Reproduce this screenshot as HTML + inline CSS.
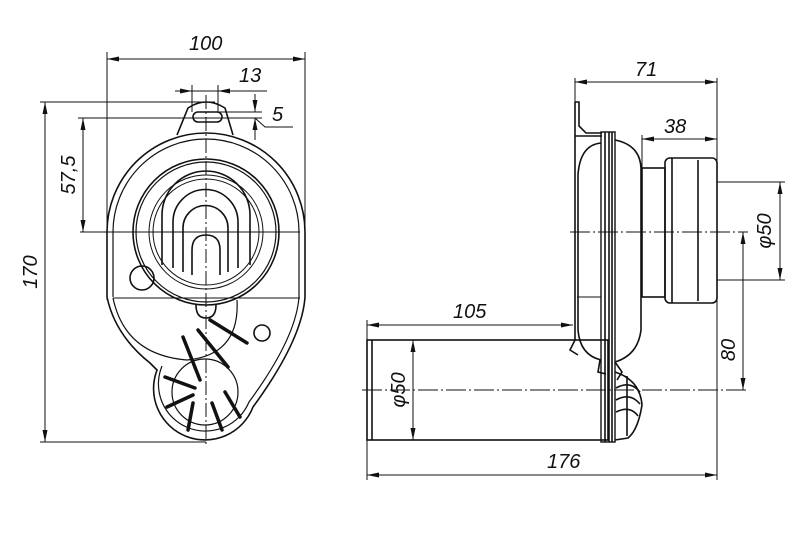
<!DOCTYPE html>
<html><head><meta charset="utf-8"><style>
html,body{margin:0;padding:0;background:#fff;}
svg{display:block;}
text{font-family:"Liberation Sans",sans-serif;font-style:italic;font-size:20px;fill:#111;}
</style></head><body>
<svg width="798" height="544" viewBox="0 0 798 544" xmlns="http://www.w3.org/2000/svg">
<defs>
<marker id="a" viewBox="0 0 12 6" refX="12" refY="3" markerWidth="12" markerHeight="6" orient="auto-start-reverse" markerUnits="userSpaceOnUse"><path d="M0,0.5 L12,3 L0,5.5 z" fill="#111"/></marker>
</defs>
<g stroke="#111" fill="none" stroke-width="1">
<line x1="107" y1="52" x2="107" y2="300"/>
<line x1="305" y1="52" x2="305" y2="230"/>
<line x1="107" y1="59" x2="305" y2="59" marker-start="url(#a)" marker-end="url(#a)"/>
<line x1="192" y1="85" x2="192" y2="112"/>
<line x1="218" y1="85" x2="218" y2="112"/>
<line x1="175" y1="91" x2="192" y2="91" marker-end="url(#a)"/>
<line x1="192" y1="91" x2="218" y2="91"/>
<line x1="267" y1="91" x2="218" y2="91" marker-end="url(#a)"/>
<line x1="40" y1="102" x2="215" y2="102"/>
<line x1="215" y1="112" x2="262" y2="112"/>
<line x1="78" y1="118" x2="262" y2="118"/>
<line x1="255" y1="94" x2="255" y2="112" marker-end="url(#a)"/>
<line x1="255" y1="140" x2="255" y2="118" marker-end="url(#a)"/>
<polyline points="255,118 265,127 293,127"/>
<line x1="45" y1="102" x2="45" y2="442" marker-start="url(#a)" marker-end="url(#a)"/>
<line x1="40" y1="442" x2="206" y2="442"/>
<line x1="83" y1="118" x2="83" y2="232" marker-start="url(#a)" marker-end="url(#a)"/>
<line x1="80" y1="232" x2="300" y2="232"/>
<line x1="206" y1="95" x2="206" y2="445" stroke-dasharray="14,3,2,3"/>
<g stroke-width="1.6">
<path d="M177,135 L188,108 Q206,96 225,108 L233,135"/>
<rect x="193" y="112" width="29" height="10" rx="5"/>
<path d="M107,297 L107,232 A99,99 0 0 1 305,232 L305,297 Q302,340 253,407 A50,50 0 1 1 157,370 L150,363 Q115,335 107,297 Z"/>
<path d="M113,297 L113,232 A93,93 0 0 1 299,232 L299,297 Q296,338 249,402 A45,45 0 1 1 162,366" stroke-width="1.2"/>
<circle cx="206" cy="232" r="73"/>
<circle cx="206" cy="232" r="70" stroke-width="1.2"/>
<circle cx="206" cy="232" r="57" stroke-width="1"/>
<circle cx="206" cy="232" r="53" stroke-width="1"/>
<path d="M162,265 L162,215 A44,44 0 0 1 250,215 L250,265"/>
<path d="M173,268 L173,222 A32,32 0 0 1 238,222 L238,268"/>
<path d="M183,272 L183,228 A22,22 0 0 1 228,228 L228,272"/>
<path d="M192,275 L192,250 Q192,235 206,235 Q220,235 220,250 L220,275"/>
<circle cx="142" cy="278" r="12"/>
<circle cx="262" cy="333" r="8"/>
<path d="M196,305 Q196,318 206,318 Q216,318 216,305"/>
<path d="M113,298 Q125,355 187,360 Q240,355 237,300" stroke-width="1.2"/>
<circle cx="205" cy="392" r="33" stroke-width="1.2"/>
</g>
<line x1="113" y1="298" x2="300" y2="298"/>
<g stroke-width="3.5" stroke-linecap="round">
<line x1="210" y1="320" x2="247" y2="343"/>
<line x1="198" y1="330" x2="228" y2="367"/>
<line x1="183" y1="337" x2="200" y2="380"/>
<line x1="165" y1="377" x2="195" y2="388"/>
<line x1="167" y1="407" x2="193" y2="395"/>
<line x1="193" y1="403" x2="188" y2="430"/>
<line x1="212" y1="403" x2="222" y2="430"/>
<line x1="225" y1="392" x2="240" y2="417"/>
</g>
<line x1="575" y1="78" x2="575" y2="102"/>
<line x1="717" y1="78" x2="717" y2="480"/>
<line x1="575" y1="82" x2="717" y2="82" marker-start="url(#a)" marker-end="url(#a)"/>
<line x1="642" y1="135" x2="642" y2="168"/>
<line x1="642" y1="139" x2="717" y2="139" marker-start="url(#a)" marker-end="url(#a)"/>
<line x1="570" y1="232" x2="748" y2="232" stroke-dasharray="20,3,2,3"/>
<line x1="717" y1="182" x2="785" y2="182"/>
<line x1="717" y1="280" x2="785" y2="280"/>
<line x1="780" y1="182" x2="780" y2="280" marker-start="url(#a)" marker-end="url(#a)"/>
<line x1="743" y1="232" x2="743" y2="390" marker-start="url(#a)" marker-end="url(#a)"/>
<line x1="362" y1="390" x2="747" y2="390" stroke-dasharray="20,3,2,3"/>
<line x1="367" y1="320" x2="367" y2="480"/>
<line x1="367" y1="325" x2="573" y2="325" marker-start="url(#a)" marker-end="url(#a)"/>
<line x1="367" y1="475" x2="717" y2="475" marker-start="url(#a)" marker-end="url(#a)"/>
<line x1="413" y1="340" x2="413" y2="440" marker-start="url(#a)" marker-end="url(#a)"/>
<g stroke-width="1.6">
<path d="M575,102 L575,340"/>
<path d="M575,102 L579,102 L579,126 L586,133 L602,133"/>
<line x1="575" y1="136" x2="602" y2="136"/>
<rect x="601" y="132" width="14" height="310" stroke-width="1.4"/>
<line x1="605" y1="132" x2="605" y2="442"/>
<line x1="609" y1="132" x2="609" y2="442"/>
<line x1="612" y1="132" x2="612" y2="442"/>
<path d="M601,143 Q580,145 578,175 L578,330 Q580,355 601,360"/>
<path d="M615,140 Q640,145 641,168 L641,330 Q638,355 615,362"/>
<line x1="577" y1="297" x2="601" y2="297" stroke-width="1"/>
<rect x="642" y="168" width="23" height="129"/>
<rect x="665" y="158" width="52" height="145" rx="5"/>
<line x1="672" y1="158" x2="672" y2="303"/>
<line x1="698" y1="160" x2="698" y2="301"/>
<rect x="367" y="340" width="241" height="100"/>
<line x1="372" y1="340" x2="372" y2="440"/>
<path d="M575,340 L570,350 L578,355"/>
<path d="M600,360 L598,372 L606,374"/>
<path d="M615,362 L622,372 L617,380"/>
<path d="M615,372 Q640,380 642,405 Q638,430 628,438 L615,440"/>
<path d="M616,388 Q630,380 640,392"/>
<path d="M616,400 Q630,392 640,404"/>
<path d="M616,412 Q630,405 638,416"/>
<line x1="627" y1="376" x2="627" y2="436"/>
</g>
</g>
<text x="189" y="50">100</text>
<text x="239" y="82">13</text>
<text x="272" y="121">5</text>
<text transform="translate(37,272) rotate(-90)" text-anchor="middle">170</text>
<text transform="translate(75,175) rotate(-90)" text-anchor="middle">57,5</text>
<text x="635" y="76">71</text>
<text x="664" y="133">38</text>
<text transform="translate(771,231) rotate(-90)" text-anchor="middle">φ50</text>
<text transform="translate(735,350) rotate(-90)" text-anchor="middle">80</text>
<text x="453" y="318">105</text>
<text x="547" y="468">176</text>
<text transform="translate(405,390) rotate(-90)" text-anchor="middle">φ50</text>
</svg>
</body></html>
